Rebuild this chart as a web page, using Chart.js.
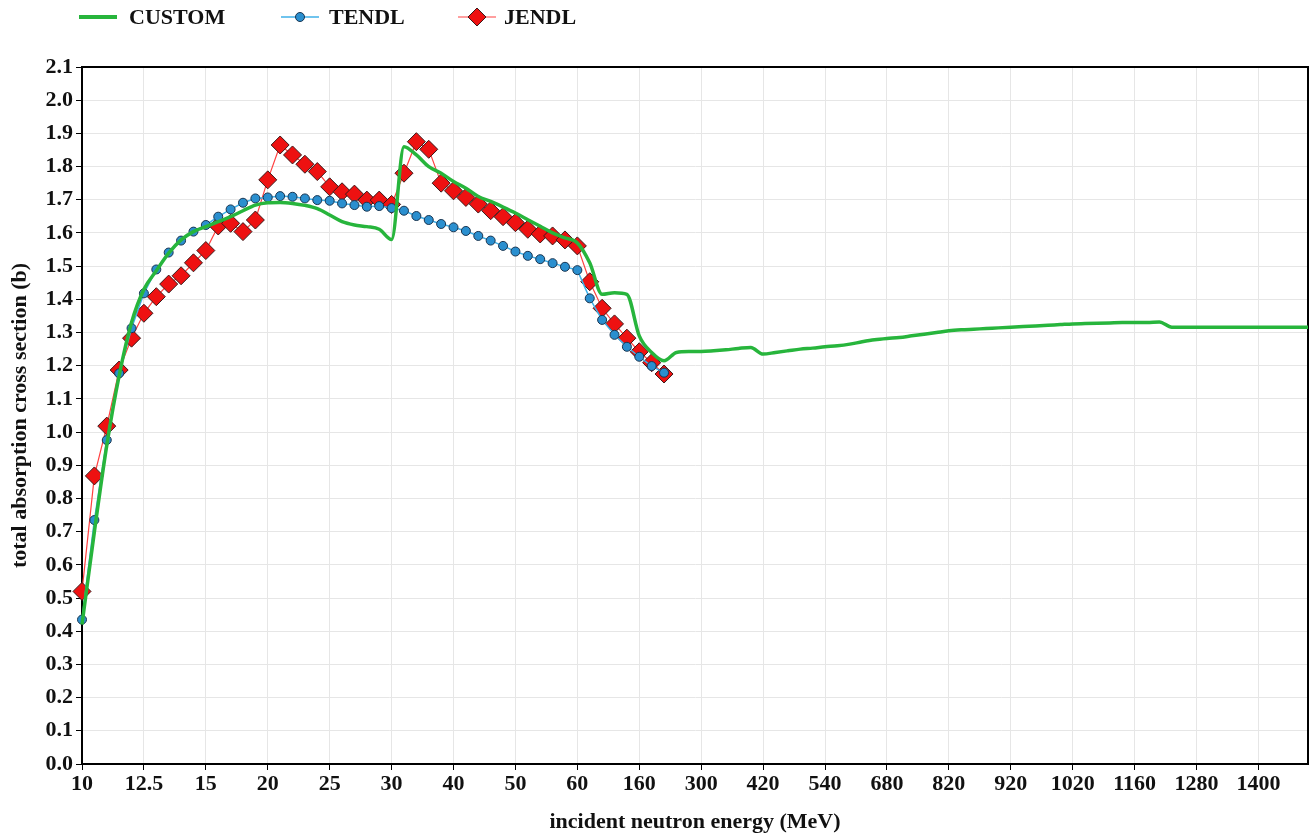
<!DOCTYPE html>
<html>
<head>
<meta charset="utf-8">
<script src="https://cdn.jsdelivr.net/npm/chart.js@4.4.1/dist/chart.umd.min.js"></script>
<style>
  body { margin: 0; background: #fff; }
  #wrap { position: relative; width: 1311px; height: 837px; }
  #legend { position: absolute; left: 0; top: 0; height: 36px; width: 700px;
            font: bold 22px "Liberation Serif", "Times New Roman", serif; color: #111; }
  .item { position: absolute; top: 4px; line-height: 26px; }
  .item svg { position: absolute; top: 0; }
</style>
</head>
<body>
<div id="wrap">
  <canvas id="chart" width="1311" height="837"></canvas>
  <div id="legend">
    <div class="item" style="left:79px"><svg width="40" height="26"><line x1="0" y1="13" x2="38" y2="13" stroke="#27b53c" stroke-width="4"/></svg><span style="margin-left:50px">CUSTOM</span></div>
    <div class="item" style="left:281px"><svg width="40" height="26"><line x1="0" y1="13" x2="38" y2="13" stroke="#40b0e8" stroke-width="1.5"/><circle cx="19" cy="13" r="4.5" fill="#2a8fcf" stroke="#1a3550" stroke-width="1"/></svg><span style="margin-left:48px">TENDL</span></div>
    <div class="item" style="left:458px"><svg width="40" height="26"><line x1="0" y1="13" x2="38" y2="13" stroke="#ff4040" stroke-width="1.2"/><polygon points="19,4 28,13 19,22 10,13" fill="#ee1111" stroke="#3a1a1a" stroke-width="1"/></svg><span style="margin-left:46px">JENDL</span></div>
  </div>
</div>
<script>
// incident neutron energy categories (MeV), one per data column
const energies = [
  10, 10.5, 11, 11.5, 12, 12.5, 13, 13.5, 14, 14.5,
  15, 16, 17, 18, 19, 20, 21, 22, 23, 24,
  25, 26, 27, 28, 29, 30, 32, 34, 36, 38,
  40, 42, 44, 46, 48, 50, 52, 54, 56, 58,
  60, 80, 100, 120, 140, 160, 188, 216, 244, 272,
  300, 324, 348, 372, 396, 420, 444, 468, 492, 516,
  540, 568, 596, 624, 652, 680, 708, 736, 764, 792,
  820, 840, 860, 880, 900, 920, 940, 960, 980, 1000,
  1020, 1048, 1076, 1104, 1132, 1160, 1184, 1208, 1232, 1256,
  1280, 1304, 1328, 1352, 1376, 1400, 1424, 1448, 1472, 1496
];

// every 5th category gets a tick label
const tickEvery = 5;

const custom = [
  0.42, 0.70, 0.96, 1.17, 1.33, 1.43, 1.486, 1.539, 1.579, 1.604,
  1.619, 1.634, 1.649, 1.667, 1.684, 1.691, 1.692, 1.689, 1.683, 1.673,
  1.654, 1.634, 1.624, 1.619, 1.611, 1.58, 1.86, 1.835, 1.80, 1.78,
  1.755, 1.735, 1.71, 1.695, 1.678, 1.66, 1.64, 1.62, 1.60, 1.585,
  1.57, 1.51, 1.415, 1.42, 1.415, 1.29, 1.24, 1.215, 1.24, 1.243,
  1.243, 1.245, 1.248, 1.252, 1.255, 1.235, 1.24, 1.245, 1.25, 1.253,
  1.257, 1.26, 1.265, 1.272, 1.278, 1.282, 1.285, 1.29, 1.295, 1.30,
  1.305, 1.308, 1.31, 1.312, 1.314, 1.316, 1.318, 1.32, 1.322, 1.324,
  1.326, 1.327, 1.328, 1.329, 1.33, 1.33, 1.33, 1.332, 1.316, 1.316,
  1.316, 1.316, 1.316, 1.316, 1.316, 1.316, 1.316, 1.316, 1.316, 1.316
];

const tendl = [
  0.435, 0.735, 0.976, 1.177, 1.313, 1.418, 1.490, 1.541, 1.577, 1.604,
  1.624, 1.649, 1.671, 1.691, 1.704, 1.707, 1.711, 1.709, 1.704, 1.699,
  1.697, 1.689, 1.684, 1.679, 1.681, 1.675, 1.667, 1.651, 1.639, 1.627,
  1.617, 1.606, 1.591, 1.577, 1.561, 1.544, 1.531, 1.521, 1.509, 1.498,
  1.488, 1.403, 1.338, 1.293, 1.257, 1.227, 1.199, 1.179
];

const jendl = [
  0.52, 0.868, 1.018, 1.187, 1.283, 1.358, 1.408, 1.446, 1.471, 1.510,
  1.547, 1.621, 1.629, 1.604, 1.639, 1.760, 1.865, 1.835, 1.807, 1.785,
  1.739, 1.724, 1.717, 1.699, 1.699, 1.686, 1.780, 1.875, 1.852, 1.750,
  1.727, 1.707, 1.687, 1.667, 1.649, 1.631, 1.611, 1.597, 1.591, 1.579,
  1.561, 1.453, 1.373, 1.326, 1.283, 1.242, 1.209, 1.175
];

const serif = '"Liberation Serif", "Times New Roman", serif';

// full black box round the plot area
const frame = {
  id: 'frame',
  beforeDatasetsDraw(chart) {
    const { ctx, chartArea: a } = chart;
    ctx.save();
    ctx.strokeStyle = '#000';
    ctx.lineWidth = 2;
    ctx.strokeRect(a.left, a.top, a.right - a.left, a.bottom - a.top);
    ctx.restore();
  }
};

new Chart(document.getElementById('chart'), {
  type: 'line',
  data: {
    labels: energies,
    datasets: [
      {
        label: 'CUSTOM',
        data: custom,
        borderColor: '#27b53c',
        borderWidth: 3.5,
        pointRadius: 0,
        cubicInterpolationMode: 'monotone',
        clip: false
      },
      {
        label: 'TENDL',
        data: tendl,
        borderColor: '#40b0e8',
        borderWidth: 1.5,
        pointRadius: 4.5,
        pointBackgroundColor: '#2a8fcf',
        pointBorderColor: '#1a3550',
        pointBorderWidth: 1,
        tension: 0,
        clip: false
      },
      {
        label: 'JENDL',
        data: jendl,
        borderColor: '#ff4040',
        borderWidth: 1.2,
        pointStyle: 'rectRot',
        pointRadius: 9,
        pointBackgroundColor: '#ee1111',
        pointBorderColor: '#3a1a1a',
        pointBorderWidth: 1,
        tension: 0,
        clip: false
      }
    ]
  },
  options: {
    responsive: false,
    animation: false,
    // no automatic padding for the big markers, keep the plot box where the original has it
    layout: { autoPadding: false, padding: { top: 67, right: 3, left: 0, bottom: 0 } },
    plugins: {
      legend: { display: false },
      tooltip: { enabled: false }
    },
    scales: {
      x: {
        type: 'category',
        offset: false,
        afterFit: (scale) => {
          scale.height = 73;
          scale.paddingLeft = 0;
          scale.paddingRight = 0;
        },
        grid: { color: '#e6e6e6', tickColor: '#000', tickLength: 6, lineWidth: 1 },
        border: { color: '#000', width: 2 },
        ticks: {
          autoSkip: false,
          maxRotation: 0,
          padding: 1,
          color: '#111',
          font: { family: serif, size: 22, weight: 'bold' },
          callback: (val, index) => (index % tickEvery === 0 ? String(energies[index]) : null)
        },
        title: {
          display: true,
          text: 'incident neutron energy (MeV)',
          color: '#111',
          font: { family: serif, size: 22, weight: 'bold' },
          padding: { top: 0, bottom: 1 }
        }
      },
      y: {
        min: 0,
        max: 2.1,
        afterFit: (scale) => { scale.width = 82; },
        grid: { color: '#e6e6e6', tickColor: '#000', tickLength: 6, lineWidth: 1 },
        border: { color: '#000', width: 2 },
        ticks: {
          stepSize: 0.1,
          padding: 3,
          color: '#111',
          font: { family: serif, size: 22, weight: 'bold' },
          callback: (v) => v.toFixed(1)
        },
        title: {
          display: true,
          text: 'total absorption cross section (b)',
          color: '#111',
          font: { family: serif, size: 22, weight: 'bold' },
          padding: { top: 7, bottom: 0 }
        }
      }
    }
  },
  plugins: [frame]
});
</script>
</body>
</html>
